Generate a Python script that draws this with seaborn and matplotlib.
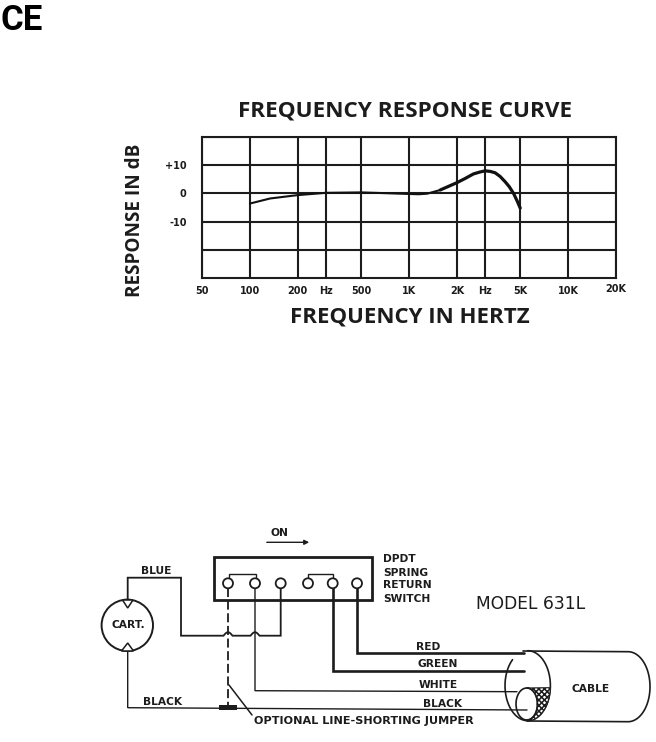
import numpy as np
import pandas as pd
import matplotlib
matplotlib.use("Agg")
import matplotlib.pyplot as plt
from matplotlib.patches import Circle, Polygon, Rectangle
from matplotlib.ticker import NullLocator
import seaborn as sns

low_freq_hz = [100, 134, 200, 300, 500, 700, 1000, 1150, 1300, 1570]
low_resp_db = [-3.6, -1.8, -0.6, 0.2, 0.35, 0.1, -0.2, -0.3, -0.1, 1.2]
high_freq_hz = [1570, 2000, 2255, 2540, 2800, 3010, 3240, 3480, 3740, 4025, 4265, 4540, 4785, 5000]
high_resp_db = [1.2, 3.8, 5.3, 6.9, 7.6, 8.0, 7.8, 7.3, 6.0, 4.1, 2.4, 0.0, -2.7, -5.2]
x_ticks = [50, 100, 200, 300, 500, 1000, 2000, 3000, 5000, 10000, 20000]
x_labels = ["50", "100", "200", "Hz", "500", "1K", "2K", "Hz", "5K", "10K", "20K"]
y_ticks = [20, 10, 0, -10, -20]
y_labels = ["", "+10", "0", "-10", ""]

sns.set_theme(style="white")
plt.rcParams["font.family"] = ["Open Sans", "DejaVu Sans"]
INK = "#1c1c1c"

fig = plt.figure(figsize=(6.56, 7.42), dpi=100, facecolor="white")
W, H = 656, 742
L, R, T, B = 202, 616, 137, 278
ax = fig.add_axes([L / W, 1 - B / H, (R - L) / W, (B - T) / H])

sns.lineplot(x=low_freq_hz, y=low_resp_db, ax=ax, color="#111111", lw=1.5, zorder=5)
sns.lineplot(x=high_freq_hz, y=high_resp_db, ax=ax, color="#111111", lw=2.3, zorder=5)
ax.set_xscale("log")
ax.set_xlim(50, 20000)
ax.set_ylim(-30, 20)
ax.xaxis.set_minor_locator(NullLocator())
ax.set_xticks(x_ticks, x_labels)
ax.set_yticks(y_ticks, y_labels)
ax.grid(True, which="major", color=INK, lw=1.5)
ax.tick_params(axis="both", length=0, labelsize=7, labelcolor=INK)
ax.tick_params(axis="x", pad=6)
ax.tick_params(axis="y", pad=11)
for lab in ax.get_xticklabels() + ax.get_yticklabels():
    lab.set_fontweight("bold")
    lab.set_family("DejaVu Sans")
ax.xaxis.get_major_ticks()[-1].set_pad(4)
for s in ax.spines.values():
    s.set_color(INK)
    s.set_linewidth(1.5)
ax.set_xlabel("FREQUENCY IN HERTZ", fontsize=16, fontweight="bold", color=INK)
ax.xaxis.set_label_coords((410 - L) / (R - L), (B - 317) / (B - T), transform=ax.transAxes)
ax.xaxis.label.set_va("center")
ax.set_ylabel("RESPONSE IN dB", fontsize=13.6, fontweight="bold", color=INK)
ax.yaxis.set_label_coords((135 - L) / (R - L), (B - 220) / (B - T), transform=ax.transAxes)
ax.yaxis.label.set_va("center")
ax.text((405 - L) / (R - L), (B - 111) / (B - T), "FREQUENCY RESPONSE CURVE", transform=ax.transAxes,
        ha="center", va="center", fontsize=16.2, fontweight="bold", color=INK)

# overlay in pixel units for the wiring schematic and the CE mark
ov = fig.add_axes([0, 0, 1, 1], facecolor="none")
ov.set_xlim(0, W)
ov.set_ylim(H, 0)
ov.axis("off")


def wire(xs, ys, lw=1.3, **kw):
    ov.plot(xs, ys, color=INK, lw=lw, solid_joinstyle="miter", **kw)


def label(x, y, s, size=7.7, ha="left", **kw):
    ov.text(x, y, s, fontsize=size, ha=ha, va="center", color=INK, family="DejaVu Sans",
            fontweight=kw.pop("fontweight", "bold"), **kw)


# CE mark
ov.text(1, 30, "CE", fontsize=25, family="Roboto", fontweight="bold",
        va="baseline", ha="left", color="black")

# switch box
ov.add_patch(Rectangle((214, 557), 158, 43, fill=False, ec=INK, lw=2))
for cx in [228, 255, 280.7, 308, 332.7, 357]:
    ov.add_patch(Circle((cx, 583.3), 5, fc="white", ec=INK, lw=1.3, zorder=4))
wire([229, 229, 256, 256], [578, 573.5, 573.5, 578], lw=1)
wire([308, 308, 333, 333], [578, 573.5, 573.5, 578], lw=1)
label(279, 533, "ON", ha="center")
ov.annotate("", xy=(312, 542.3), xytext=(264, 542.3),
            arrowprops=dict(arrowstyle="-|>", color=INK, lw=1, mutation_scale=7))

# cartridge
ov.add_patch(Circle((127.3, 625.3), 25.7, fill=False, ec=INK, lw=1.4))
ov.add_patch(Polygon([(122.5, 600), (127.7, 608), (133, 600)], fc="white", ec=INK, lw=1.1, zorder=4))
ov.add_patch(Polygon([(121.5, 651), (127.7, 643), (133.5, 651)], fc="white", ec=INK, lw=1.1, zorder=4))
label(128, 624.5, "CART.", ha="center")

# blue wire with hops
hop = lambda c: (np.linspace(c - 4.5, c + 4.5, 9), 635.7 - 3.5 * np.sin(np.linspace(0, np.pi, 9)))
h1, h2 = hop(228), hop(255)
wire(np.r_[127.7, 127.7, 181, 181, h1[0], h2[0], 280.7, 280.7],
     np.r_[600, 577.7, 577.7, 635.7, h1[1], h2[1], 635.7, 588], lw=1.3)
label(141, 570.5, "BLUE")

# black wire and jumper
wire([127.7, 127.7, 527], [651, 707.7, 710], lw=1)
label(143, 702, "BLACK")
label(423, 703.7, "BLACK")
ov.add_patch(Rectangle((219, 705), 18, 5, fc=INK, ec="none", zorder=4))
ov.plot([228, 228], [588, 705], color=INK, lw=1.3, ls=(0, (5, 2)))
wire([229, 252], [685, 715], lw=1.1)
label(254.5, 720.7, "OPTIONAL LINE-SHORTING JUMPER", size=8.1)

# white, green, red wires
wire([255, 255, 517], [588, 690.7, 691.7], lw=1)
wire([332.7, 332.7, 523.5], [588, 670.7, 670.7], lw=1.9)
wire([357, 357, 523.5], [588, 652.7, 652.7], lw=1.9)
label(416, 647, "RED")
label(418, 663.7, "GREEN")
label(419, 685, "WHITE")

# cable
t = np.linspace(0, 2 * np.pi, 200)
cx, cy, rx, ry = 527.7, 685.7, 22.7, 35
theta_open = np.linspace(np.deg2rad(-90), np.deg2rad(228), 200)
wire(cx + rx * np.cos(theta_open), cy + ry * np.sin(theta_open), lw=1.2)
arc = np.linspace(-np.pi / 2, np.pi / 2, 100)
wire(np.r_[523, 628 + 22 * np.cos(arc), 527],
     np.r_[651, 686.7 + 35 * np.sin(arc), 721], lw=1.2)
ix, iy, irx, iry = 526.7, 704, 10.7, 16
ov.plot(ix + irx * np.cos(t), iy + iry * np.sin(t), color=INK, lw=1.2, zorder=4)
a1 = np.linspace(np.arcsin((687.7 - cy) / ry), np.pi / 2, 40)
a2 = np.linspace(np.pi / 2, -np.pi / 2, 40)
plt.rcParams["hatch.linewidth"] = 1.1
ov.add_patch(Polygon(np.c_[np.r_[cx + rx * np.cos(a1), ix + irx * np.cos(a2)],
                           np.r_[cy + ry * np.sin(a1), iy + iry * np.sin(a2)]],
                     fc="white", ec=INK, lw=0.8, hatch="xxxxxx", zorder=3))
label(571, 688.7, "CABLE")

# side labels
for y, s in zip([559, 572.7, 585, 598.7], ["DPDT", "SPRING", "RETURN", "SWITCH"]):
    label(383, y, s)
label(476.5, 604, "MODEL 631L", size=12.3, fontweight="normal")

fig.savefig("out.png", dpi=100, facecolor="white")
